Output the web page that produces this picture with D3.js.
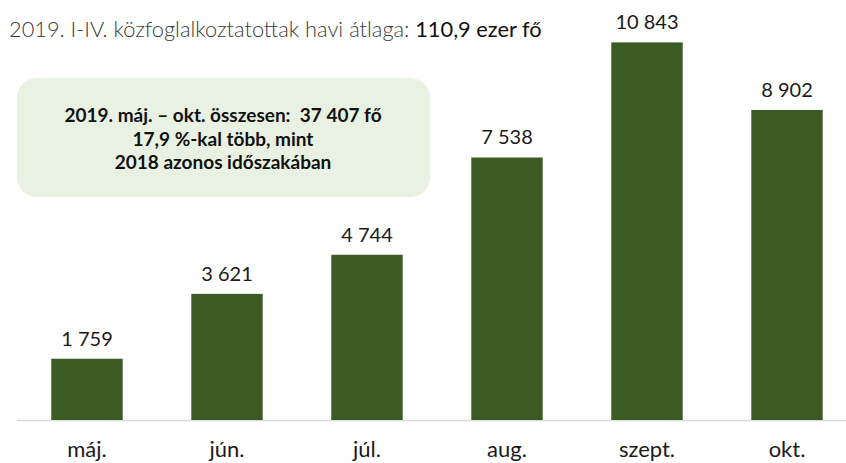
<!DOCTYPE html>
<html>
<head>
<meta charset="utf-8">
<script src="https://cdn.jsdelivr.net/npm/d3@7"></script>
<style>
  body { margin: 0; background: #fff; }
  text { font-family: Lato, "Open Sans", sans-serif; }
</style>
</head>
<body>
<div id="chart"></div>
<script>
// data
var months = ["máj.", "jún.", "júl.", "aug.", "szept.", "okt."];
var values = [1759, 3621, 4744, 7538, 10843, 8902];
var valueLabels = ["1 759", "3 621", "4 744", "7 538", "10 843", "8 902"];
var titleLight = "2019. I-IV. közfoglalkoztatottak havi átlaga: ";
var titleStrong = "110,9 ezer fő";
var boxLines = ["2019. máj. – okt. összesen:  37 407 fő", "17,9 %-kal több, mint", "2018 azonos időszakában"];

var svgWidth = 846, svgHeight = 463;
var base = 420;

var svg = d3.select("#chart").append("svg")
    .attr("width", svgWidth).attr("height", svgHeight);

var x = d3.scaleBand()
    .domain(months)
    .range([17, 857])
    .paddingInner(0.49)
    .paddingOuter(0.245);

var y = d3.scaleLinear()
    .domain([0, 12060])
    .range([base, 0]);

// baseline
svg.append("line")
    .attr("x1", 17).attr("x2", svgWidth)
    .attr("y1", base + 0.5).attr("y2", base + 0.5)
    .attr("stroke", "#d9d9d9").attr("stroke-width", 1.5);

// bars
svg.selectAll("rect.bar")
    .data(values)
    .enter().append("rect")
        .attr("class", "bar")
        .attr("x", function(d, i) { return x(months[i]); })
        .attr("y", function(d) { return y(d); })
        .attr("width", x.bandwidth())
        .attr("height", function(d) { return base - y(d); })
        .attr("fill", "#3c5a24");

// value labels
svg.selectAll("text.val")
    .data(values)
    .enter().append("text")
        .attr("class", "val")
        .attr("x", function(d, i) { return x(months[i]) + x.bandwidth() / 2; })
        .attr("y", function(d) { return y(d) - 13; })
        .attr("text-anchor", "middle")
        .attr("font-size", "20px")
        .attr("fill", "#1a1a1a")
        .text(function(d, i) { return valueLabels[i]; });

// x axis labels
var xAxis = svg.append("g")
    .attr("transform", "translate(0 " + base + ")")
    .call(d3.axisBottom(x).tickSize(0).tickPadding(0));
xAxis.select(".domain").remove();
xAxis.selectAll("text")
    .attr("y", 37)
    .attr("dy", 0)
    .attr("font-size", "22px")
    .attr("font-family", "Lato, 'Open Sans', sans-serif")
    .attr("fill", "#1a1a1a");

// title
var title = svg.append("text")
    .attr("x", 9).attr("y", 37)
    .attr("font-size", "21.8px")
    .attr("fill", "#3a3a3a");
title.append("tspan").attr("font-weight", 300).text(titleLight);
title.append("tspan").attr("font-weight", 400).attr("fill", "#111").text(titleStrong);

// info box
svg.append("rect")
    .attr("x", 17).attr("y", 78)
    .attr("width", 413).attr("height", 119)
    .attr("rx", 20).attr("ry", 20)
    .attr("fill", "#e9f1e2");

svg.selectAll("text.box")
    .data(boxLines)
    .enter().append("text")
        .attr("class", "box")
        .attr("x", 223)
        .attr("y", function(d, i) { return 122 + i * 23.5; })
        .attr("text-anchor", "middle")
        .attr("font-size", "19px")
        .attr("font-weight", "bold")
        .attr("fill", "#111")
        .style("white-space", "pre")
        .text(function(d) { return d; });
</script>
</body>
</html>
